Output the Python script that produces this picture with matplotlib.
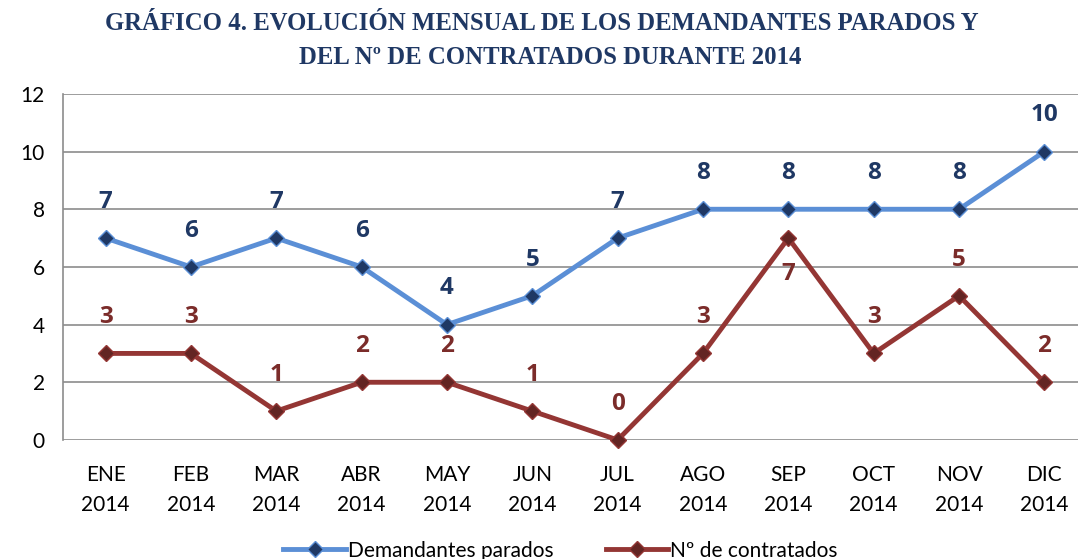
import matplotlib
matplotlib.use('Agg')
import matplotlib.pyplot as plt
from matplotlib.lines import Line2D

meses = ['ENE', 'FEB', 'MAR', 'ABR', 'MAY', 'JUN', 'JUL', 'AGO', 'SEP', 'OCT', 'NOV', 'DIC']
anio = '2014'
demandantes = [7, 6, 7, 6, 4, 5, 7, 8, 8, 8, 8, 10]
contratados = [3, 3, 1, 2, 2, 1, 0, 3, 7, 3, 5, 2]
# label position for the red series: +1 above, -1 below
pos_contratados = [1, 1, 1, 1, 1, 1, 1, 1, -1, 1, 1, 1]

AZUL = '#5b8fd6'
AZUL_OSC = '#1f3864'
ROJO = '#943634'
ROJO_OSC = '#632523'

plt.rcParams['font.family'] = ['Lato', 'DejaVu Sans']

fig = plt.figure(figsize=(10.78, 5.59), dpi=100)
ax = fig.add_axes([0.0584, 0.213, 0.95, 0.619])

x = list(range(len(meses)))
ax.plot(x, demandantes, color=AZUL, lw=3.5, marker='D', ms=8, clip_on=False,
        markerfacecolor=AZUL_OSC, markeredgecolor=AZUL, markeredgewidth=1, zorder=3)
ax.plot(x, contratados, color=ROJO, lw=3.5, marker='D', ms=8, clip_on=False,
        markerfacecolor=ROJO_OSC, markeredgecolor=ROJO, markeredgewidth=1, zorder=3)

etiqueta = dict(ha='center', va='center', fontsize=17.5, fontweight='bold',
                family=['Open Sans', 'DejaVu Sans'])
for xi, v in zip(x, demandantes):
    ax.annotate(str(v), (xi, v), xytext=(0, 26), textcoords='offset points',
                color=AZUL_OSC, **etiqueta)
for xi, v, p in zip(x, contratados, pos_contratados):
    ax.annotate(str(v), (xi, v), xytext=(0, 26 * p), textcoords='offset points',
                color='#7b2c2a', **etiqueta)

ax.set_xlim(-0.5, 11.5)
ax.set_ylim(0, 12)
ax.set_yticks(range(0, 13, 2))
ax.set_xticks(x)
ax.set_xticklabels([f'{m}\n{anio}' for m in meses], linespacing=1.6)
ax.tick_params(axis='both', length=0, labelsize=15, colors='black')
ax.tick_params(axis='x', pad=18)
ax.tick_params(axis='y', pad=13)

ax.grid(axis='y', color='#8c8c8c', lw=1.2)
ax.set_axisbelow(True)
for s in ['top', 'right', 'bottom']:
    ax.spines[s].set_visible(False)
ax.spines['left'].set_color('#8c8c8c')
ax.spines['left'].set_linewidth(1.2)

titulo = dict(ha='center', va='center', fontsize=17.8, fontweight='bold', color=AZUL_OSC,
              family=['Liberation Serif', 'DejaVu Serif'])
fig.text(0.503, 0.958, 'GRÁFICO 4. EVOLUCIÓN MENSUAL DE LOS DEMANDANTES PARADOS Y', **titulo)
fig.text(0.51, 0.897, 'DEL Nº DE CONTRATADOS DURANTE 2014', **titulo)

handles = [
    Line2D([], [], color=AZUL, lw=3.5, marker='D', ms=8,
           markerfacecolor=AZUL_OSC, markeredgecolor=AZUL),
    Line2D([], [], color=ROJO, lw=3.5, marker='D', ms=8,
           markerfacecolor=ROJO_OSC, markeredgecolor=ROJO),
]
fig.legend(handles, ['Demandantes parados', 'Nº de contratados'], loc='center',
           bbox_to_anchor=(0.52, 0.015), ncol=2, frameon=False, fontsize=15,
           handlelength=3, handletextpad=0.1, columnspacing=2.5)

fig.savefig('out.png', dpi=100)
